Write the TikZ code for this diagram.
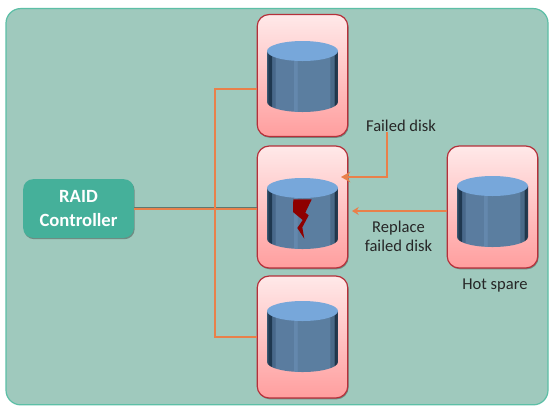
\documentclass[tikz,border=0pt]{standalone}
\usepackage{fontspec}
\setmainfont{Carlito}
\usetikzlibrary{arrows.meta,shadows}
\definecolor{bgfill}{HTML}{9FC9BD}
\definecolor{bgline}{HTML}{5CBFA6}
\definecolor{ctrl}{HTML}{45B09A}
\definecolor{cardline}{HTML}{B5303A}
\definecolor{cardtop}{HTML}{FFE9E9}
\definecolor{cardbot}{HTML}{FF9E9E}
\definecolor{wire}{HTML}{E9804A}
\definecolor{disktop}{HTML}{77A7DA}
\definecolor{crack}{HTML}{8E0000}
\definecolor{dsa}{HTML}{3B5670}
\definecolor{dsb}{HTML}{1F3850}
\definecolor{dsc}{HTML}{48688A}
\definecolor{dsd}{HTML}{5A7C9F}
\definecolor{dse}{HTML}{6488AD}
\definecolor{dsf}{HTML}{5B7EA0}
\definecolor{dsg}{HTML}{4A6A88}
\definecolor{dsh}{HTML}{1F3447}
\definecolor{dsi}{HTML}{283E54}
\pgfdeclarehorizontalshading{diskside}{100bp}{
  color(0bp)=(dsa);
  color(25bp)=(dsa);
  color(26.2bp)=(dsb);
  color(28bp)=(dsb);
  color(28.6bp)=(dsc);
  color(30.5bp)=(dsc);
  color(31bp)=(dsd);
  color(43.5bp)=(dsd);
  color(44bp)=(dse);
  color(46bp)=(dse);
  color(46.5bp)=(dsf);
  color(69bp)=(dsf);
  color(69.5bp)=(dsg);
  color(72bp)=(dsg);
  color(72.6bp)=(dsh);
  color(75bp)=(dsi);
  color(100bp)=(dsi)}
\tikzset{
  x=0.75pt,y=-0.75pt,
  softshadow/.style={drop shadow={shadow xshift=0.6pt,shadow yshift=-1pt,opacity=0.3,fill=black}},
  panel/.style={rectangle,draw=bgline,line width=0.9pt,fill=bgfill,rounded corners=11pt,minimum width=406.5pt,minimum height=297.2pt,inner sep=0pt},
  controller/.style={rectangle,fill=ctrl,rounded corners=7.5pt,minimum width=83pt,minimum height=44pt,align=center,text=white,font=\fontsize{14pt}{17.3pt}\selectfont\bfseries,inner sep=0pt,softshadow},
  diskcard/.style={rectangle,draw=cardline,line width=0.9pt,top color=cardtop,bottom color=cardbot,rounded corners=9pt,minimum width=68pt,minimum height=91.5pt,inner sep=0pt,softshadow},
  wireline/.style={draw=wire,line width=2pt},
  wirearrow/.style={wireline,-{Stealth[length=7pt,width=8pt,inset=2.5pt]}},
  thinarrow/.style={wireline,-{Stealth[length=5pt,width=6pt,inset=1.5pt]}},
  caption/.style={font=\fontsize{12.4pt}{14.5pt}\selectfont,align=center,text=black!85,inner sep=0pt},
}
\newcommand{\diskat}[2]{%
  \path[shading=diskside,shading angle=0] (#1-35.5,#2) -- (#1-35.5,#2+51) arc[start angle=180,end angle=360,x radius=35.5,y radius=-10] -- (#1+35.5,#2) -- cycle;
  \fill[disktop] (#1,#2) ellipse[x radius=35.5,y radius=10];
}
\begin{document}
\begin{tikzpicture}
\useasboundingbox (0,0) rectangle (555,412);
\fill[white] (0,0) rectangle (555,412);
\node[panel] (bg) at (277,206.7) {};
\node[controller] (raid) at (78.5,208.5) {RAID\\Controller};
\node[diskcard] (top) at (302.5,75.5) {};
\node[diskcard] (mid) at (302.5,207) {};
\node[diskcard] (low) at (302.5,337) {};
\node[diskcard] (spare) at (492.5,207) {};
\diskat{302.5}{51}
\diskat{302.5}{188}
\diskat{302.5}{311}
\diskat{492.5}{186}
\fill[crack] (293.3,199.3) -- (311.7,199.3) -- (305.3,212.7) -- (308.7,215.3) -- (302.3,227.3) -- (304.3,238.7) -- (297.3,228) -- (302.7,220) -- (293,212) -- cycle;
\node[caption] (failed) at (401,126) {Failed disk};
\node[caption] (replace) at (398.5,236) {Replace\\failed disk};
\node[caption] (hot) at (495,286) {Hot spare};
\coordinate (junction) at (215,208);
\coordinate (elbowa) at (387,177);
\draw[wireline] (raid.east) -- (raid.east -| mid.west);
\begin{scope}[transform canvas={yshift=1.1pt}]
\draw[draw=black!40!bgfill,line width=0.6pt] (raid.east) -- (raid.east -| mid.west);
\end{scope}
\draw[wireline,line join=miter] (top.west |- 0,89) -| (junction |- low.west) -- (low.west);
\draw[wirearrow] (failed.south -| elbowa) -- (elbowa) -- (341,177);
\draw[thinarrow] (spare.west |- 0,211) -- (352,211);
\end{tikzpicture}
\end{document}
